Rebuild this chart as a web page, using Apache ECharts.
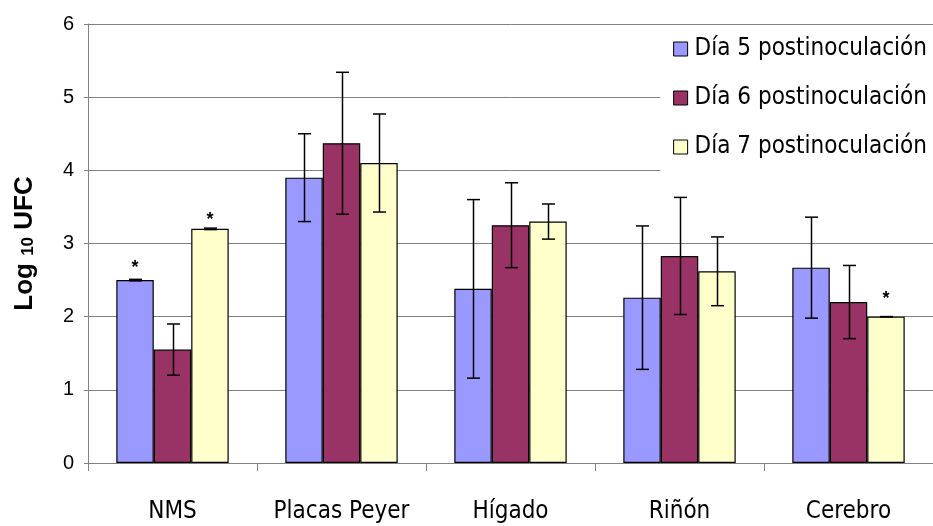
<!DOCTYPE html>
<html><head><meta charset="utf-8">
<script src="https://cdn.jsdelivr.net/npm/echarts@6/dist/echarts.min.js"></script>
<style>html,body{margin:0;padding:0;background:#fff}#c{width:933px;height:526px}</style>
</head><body><div id="c"></div>
<script>
const categories = ['NMS', 'Placas Peyer', 'Hígado', 'Riñón', 'Cerebro'];
const seriesNames = ['Día 5 postinoculación', 'Día 6 postinoculación', 'Día 7 postinoculación'];
const dia5 = [2.5, 3.9, 2.38, 2.26, 2.67];
const dia6 = [1.55, 4.37, 3.25, 2.83, 2.2];
const dia7 = [3.2, 4.1, 3.3, 2.62, 2.0];
const err5 = [0.01, 0.6, 1.22, 0.98, 0.69];
const err6 = [0.35, 0.97, 0.58, 0.8, 0.5];
const err7 = [0.01, 0.67, 0.24, 0.47, 0.0];
const significant = [[0, 0], [2, 0], [2, 4]]; // [seriesIndex, categoryIndex]
const yTicks = [0, 1, 2, 3, 4, 5, 6];

const starDistance = [3, 0, 9];
const colors = ['#9999FF', '#993366', '#FFFFCC'];
const values = [dia5, dia6, dia7];
const errs = [err5, err6, err7];
const catGap = 0.335;
const font = '"DejaVu Sans Condensed", "DejaVu Sans", sans-serif';

const barSeries = values.map((vals, si) => ({
  name: seriesNames[si],
  type: 'bar',
  barGap: '0%',
  barCategoryGap: (catGap * 100) + '%',
  itemStyle: { color: colors[si], borderColor: '#000', borderWidth: 1.2 },
  data: vals.map((v, ci) => {
    const k = significant.findIndex(s => s[0] === si && s[1] === ci);
    return k >= 0 ? { value: v, label: { show: true, position: 'top', distance: starDistance[k], formatter: '*',
      fontSize: 18, fontWeight: 'bold', color: '#000', fontFamily: 'Liberation Sans, Arial' } } : v;
  }),
  z: 2
}));

const errData = [];
values.forEach((vals, si) => vals.forEach((v, ci) => errData.push([ci, v, errs[si][ci], si])));

const errSeries = {
  type: 'custom',
  data: errData,
  z: 5,
  silent: true,
  encode: { x: 0, y: 1 },
  renderItem: function (params, api) {
    const ci = api.value(0), v = api.value(1), e = api.value(2), si = api.value(3);
    const band = api.size([1, 0])[0];
    const bw = band * (1 - catGap) / 3;
    const c = api.coord([ci, v]);
    const x = Math.round(c[0] + (si - 1) * bw) + 0.5;
    const top = api.coord([ci, v + e])[1];
    const bot = api.coord([ci, v - e])[1];
    const cap = 6.5;
    const st = { stroke: '#000', lineWidth: 1.5 };
    return { type: 'group', children: [
      { type: 'line', shape: { x1: x, y1: top, x2: x, y2: bot }, style: st },
      { type: 'line', shape: { x1: x - cap, y1: top, x2: x + cap, y2: top }, style: st },
      { type: 'line', shape: { x1: x - cap, y1: bot, x2: x + cap, y2: bot }, style: st }
    ]};
  }
};

const chart = echarts.init(document.getElementById('c'), null, { renderer: 'canvas' });
chart.setOption({
  animation: false,
  backgroundColor: '#fff',
  grid: { left: 88, top: 24, width: 850, height: 439 },
  legend: {
    data: seriesNames,
    orient: 'vertical',
    right: 0,
    top: 28,
    backgroundColor: '#fff',
    padding: [8, 6, 16, 13],
    itemWidth: 14, itemHeight: 14, itemGap: 23,
    icon: 'rect',
    itemStyle: { borderColor: '#000', borderWidth: 1 },
    textStyle: { fontSize: 24, fontFamily: font, color: '#000', lineHeight: 26, padding: [0, 0, 0, 2] },
    z: 10
  },
  xAxis: {
    type: 'category',
    data: categories,
    axisLine: { lineStyle: { color: '#808080', width: 1 } },
    axisTick: { show: true, length: 8, lineStyle: { color: '#808080' } },
    axisLabel: { interval: 0, margin: 37, fontSize: 24, fontFamily: font, color: '#000' }
  },
  yAxis: {
    type: 'value',
    min: yTicks[0], max: yTicks[yTicks.length - 1], interval: 1,
    name: '{a|Log }{b|10}{a| UFC}',
    nameLocation: 'middle',
    nameGap: 50,
    nameRotate: 90,
    nameTextStyle: {
      rich: {
        a: { fontSize: 26, fontWeight: 'bold', fontFamily: 'Liberation Sans, Arial', color: '#000' },
        b: { fontSize: 17, fontWeight: 'bold', fontFamily: 'Liberation Sans, Arial', color: '#000', padding: [7, 0, 0, 0] }
      }
    },
    axisLine: { show: true, lineStyle: { color: '#808080', width: 1 } },
    axisTick: { show: true, length: 4, lineStyle: { color: '#808080' } },
    axisLabel: { margin: 14, fontSize: 20, fontFamily: 'Liberation Sans, Arial', color: '#000' },
    splitLine: { show: true, lineStyle: { color: '#808080', width: 1 } }
  },
  series: [...barSeries, errSeries]
});
</script></body></html>
